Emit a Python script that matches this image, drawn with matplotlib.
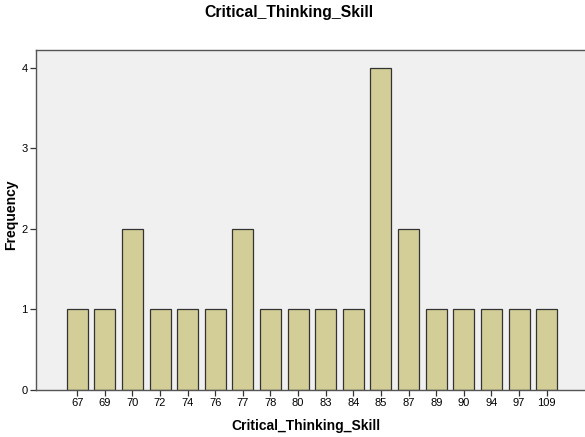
import matplotlib
matplotlib.use("Agg")
import matplotlib.pyplot as plt

plt.rcParams["font.family"] = ["Liberation Sans", "DejaVu Sans"]

categories = ["67", "69", "70", "72", "74", "76", "77", "78", "80", "83", "84", "85", "87", "89", "90", "94", "97", "109"]
frequency = [1, 1, 2, 1, 1, 1, 2, 1, 1, 1, 1, 4, 2, 1, 1, 1, 1, 1]
yticks = [0, 1, 2, 3, 4]

fig = plt.figure(figsize=(5.85, 4.37), dpi=100)
ax = fig.add_axes([36/585, 47/437, 1 - 36/585 + 0.01, (390 - 50)/437])
ax.set_facecolor("#F0F0F0")
x = list(range(len(categories)))
ax.bar(x, frequency, width=0.76, color="#D3CE97", edgecolor="#333333", linewidth=0.9, zorder=2)
ax.set_xlim(-1.49, 18.6)
ax.set_ylim(0, 4.22)
ax.set_xticks(x)
ax.set_xticklabels(categories, fontsize=8)
ax.set_yticks(yticks)
ax.set_yticklabels([str(v) for v in yticks], fontsize=8)
ax.tick_params(axis="both", length=4, width=0.9, color="#333333", pad=2)
for s in ["left", "bottom", "top"]:
    ax.spines[s].set_color("#555555")
    ax.spines[s].set_linewidth(1.0)
ax.spines["right"].set_visible(False)
fig.text(306/585, 1 - 426/437, "Critical_Thinking_Skill", ha="center", va="center", fontsize=10, fontweight="bold")
fig.text(11/585, 1 - 215/437, "Frequency", ha="center", va="center", rotation=90, fontsize=10, fontweight="bold")
fig.text(289/585, 1 - 12/437, "Critical_Thinking_Skill", ha="center", va="center", fontsize=11.3, fontweight="bold")
fig.savefig("out.png", dpi=100)
